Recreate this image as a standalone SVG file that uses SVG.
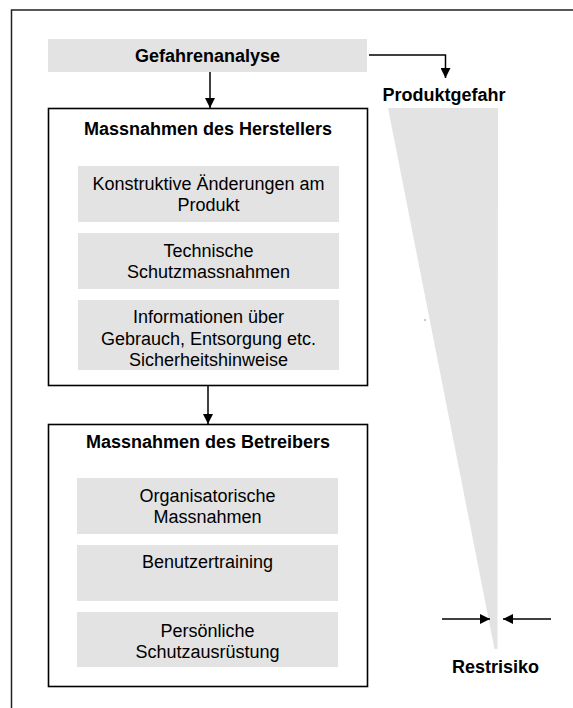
<svg xmlns="http://www.w3.org/2000/svg" width="573" height="708" viewBox="0 0 573 708">
<style>
.t{font-family:"Liberation Sans",Arial,sans-serif;font-size:18px;fill:#000;text-anchor:middle}
.b{font-weight:bold}
.g{fill:#e3e3e3}
.box{fill:#fff;stroke:#000;stroke-width:1.6}
.ln{fill:none;stroke:#000;stroke-width:1.5}
</style>
<defs>
<marker id="ah" viewBox="0 0 10 10" refX="10" refY="5" markerWidth="10" markerHeight="10" markerUnits="userSpaceOnUse" orient="auto">
<path d="M0,0 L10,5 L0,10 z" fill="#000"/>
</marker>
</defs>
<rect width="573" height="708" fill="#fff"/>
<g id="frame">
<path d="M11.5,708 V10 H573" fill="none" stroke="#222" stroke-width="1.5"/>
</g>
<g id="gefahrenanalyse">
<rect class="g" x="48" y="39" width="319" height="33"/>
<text class="t b" x="207.5" y="61.5">Gefahrenanalyse</text>
</g>
<g id="hersteller">
<rect class="box" x="48.5" y="108.5" width="319" height="277"/>
<text class="t b" x="208" y="135">Massnahmen des Herstellers</text>
<rect class="g" x="78" y="166" width="261" height="56"/>
<text class="t" x="208.5" y="190">Konstruktive Änderungen am</text>
<text class="t" x="208.5" y="211">Produkt</text>
<rect class="g" x="78" y="233" width="261" height="56"/>
<text class="t" x="208.5" y="257">Technische</text>
<text class="t" x="208.5" y="278">Schutzmassnahmen</text>
<rect class="g" x="78" y="300" width="261" height="70"/>
<text class="t" x="208.5" y="323">Informationen über</text>
<text class="t" x="208.5" y="344.5">Gebrauch, Entsorgung etc.</text>
<text class="t" x="208.5" y="366">Sicherheitshinweise</text>
</g>
<g id="betreiber">
<rect class="box" x="48.5" y="424.5" width="319" height="262"/>
<text class="t b" x="208" y="448">Massnahmen des Betreibers</text>
<rect class="g" x="77" y="478" width="261" height="56"/>
<text class="t" x="207.5" y="502">Organisatorische</text>
<text class="t" x="207.5" y="523">Massnahmen</text>
<rect class="g" x="77" y="545" width="261" height="56"/>
<text class="t" x="207.5" y="568">Benutzertraining</text>
<rect class="g" x="77" y="612" width="261" height="55"/>
<text class="t" x="207.5" y="637">Persönliche</text>
<text class="t" x="207.5" y="658">Schutzausrüstung</text>
</g>
<g id="risk">
<polygon class="g" points="388,108 498,108 497.5,649 494.5,649"/>
<text class="t b" x="444" y="101">Produktgefahr</text>
<text class="t b" x="495.5" y="673">Restrisiko</text>
<rect x="424.5" y="319.5" width="1" height="1" fill="#333"/>
</g>
<g id="connectors">
<path class="ln" d="M210,72 V108" marker-end="url(#ah)"/>
<path class="ln" d="M208,386 V424" marker-end="url(#ah)"/>
<path class="ln" d="M369,55 H445.5 V78" marker-end="url(#ah)"/>
<path class="ln" d="M442,619 H490" marker-end="url(#ah)"/>
<path class="ln" d="M551,619 H503" marker-end="url(#ah)"/>
</g>
</svg>
